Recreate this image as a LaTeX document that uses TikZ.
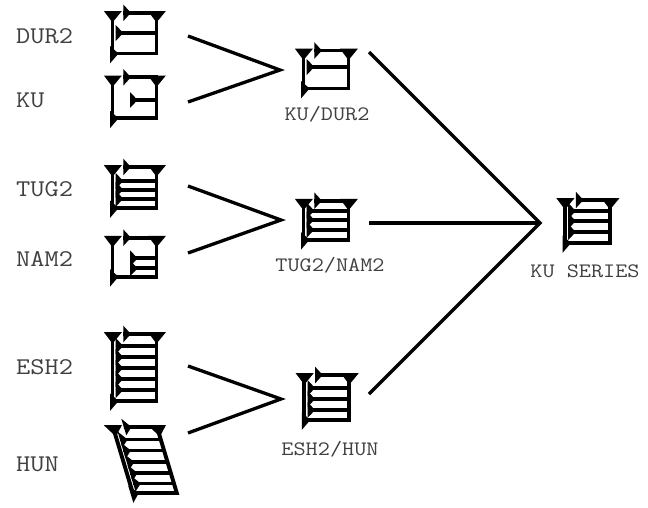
\documentclass[tikz,border=0pt]{standalone}
\usepackage{fontspec}
\setmonofont[FakeStretch=1.15]{Latin Modern Mono}
\usepackage{tikz}

% one wedge pointing right, with its stroke running to x=#3
\newcommand{\wedgeline}[3]{%
  \fill (#1,#2-8) -- (#1+7.6,#2) -- (#1,#2+8) -- cycle;
  \draw [stroke] (#1,#2) -- (#3,#2);
}
% the frame all the signs share: width #1, height #2
\newcommand{\signframe}[2]{%
  \fill (-8.6,-1.8) -- (9.4,-1.8) -- (0,9.6) -- cycle;
  \fill (#1-8.6,-1.8) -- (#1+9.4,-1.8) -- (#1,9.6) -- cycle;
  \fill (-2.4,#2-7.5) -- (6,#2) -- (-2.4,#2+9.8) -- cycle;
  \fill (10.8,-8.3) -- (18.4,0) -- (10.8,8.3) -- cycle;
  \draw [stroke] (0,0) -- (0,#2);
  \draw [stroke] (10.8,0) -- (#1,0) -- (#1,#2) -- (0,#2);
}

\tikzset{%
  stroke/.style={line width=3.9pt},
  lbl/.style={font=\ttfamily\fontsize{24}{24}\selectfont,text=black!75,anchor=west,inner sep=0pt},
  capt/.style={font=\ttfamily\fontsize{20.5}{20.5}\selectfont,text=black!75,inner sep=0pt},
  joiner/.style={line width=3.3pt},
}

\begin{document}
\begin{tikzpicture}[%
      x=1pt,y=-1pt,
      ]
      \useasboundingbox (0,0) rectangle (648,507);

      \node [lbl] (lblDur) at (16,36) {DUR2};
      \node [lbl] (lblKu) at (16,100) {KU};
      \node [lbl] (lblTug) at (16,189) {TUG2};
      \node [lbl] (lblNam) at (16,259) {NAM2};
      \node [lbl] (lblEsh) at (16,367) {ESH2};
      \node [lbl] (lblHun) at (16,464) {HUN};

      \node [capt] (capKuDur) at (327,114) {KU/DUR2};
      \node [capt] (capTugNam) at (330,265) {TUG2/NAM2};
      \node [capt] (capEshHun) at (330,449) {ESH2/HUN};
      \node [capt] (capSeries) at (585,271) {KU SERIES};

      % DUR2
      \begin{scope}[shift={(112.5,12.8)}]
        \signframe{44}{40.7}
        \wedgeline{3.2}{20.2}{44}
      \end{scope}
      % KU
      \begin{scope}[shift={(112.5,77.3)}]
        \signframe{44}{41}
        \wedgeline{17.5}{22.7}{44}
      \end{scope}
      % TUG2
      \begin{scope}[shift={(112.5,167)}]
        \signframe{44}{41}
        \foreach \ypos in {14,22.7,31.7} {\wedgeline{3.2}{\ypos}{44}}
      \end{scope}
      % NAM2
      \begin{scope}[shift={(112.5,237.7)}]
        \signframe{44}{39}
        \foreach \ypos in {20.6,30.6} {\wedgeline{17.5}{\ypos}{44}}
      \end{scope}
      % ESH2
      \begin{scope}[shift={(112.5,334)}]
        \signframe{44}{67}
        \foreach \ypos in {12,23,34,45,56} {\wedgeline{3.2}{\ypos}{44}}
      \end{scope}
      % HUN
      \begin{scope}[shift={(113,427)},xslant=-0.3]
        \signframe{44}{66}
        \foreach \ypos in {12.5,23.5,35,46,56.5} {\wedgeline{3.2}{\ypos}{44}}
      \end{scope}

      % KU/DUR2
      \begin{scope}[shift={(303.5,50.5)}]
        \signframe{45}{38}
        \wedgeline{3.2}{16.5}{45}
      \end{scope}
      % TUG2/NAM2
      \begin{scope}[shift={(303.5,200.7)}]
        \signframe{45}{39}
        \foreach \ypos in {10,19,29} {\wedgeline{3.2}{\ypos}{45}}
      \end{scope}
      % ESH2/HUN
      \begin{scope}[shift={(304.3,375)}]
        \signframe{45}{45}
        \foreach \ypos in {13,24,35} {\wedgeline{3.2}{\ypos}{45}}
      \end{scope}
      % KU SERIES
      \begin{scope}[shift={(565,200)}]
        \signframe{45}{43}
        \foreach \ypos in {11,21,32} {\wedgeline{3.2}{\ypos}{45}}
      \end{scope}

      \coordinate (durEnd) at (188,36);
      \coordinate (kuEnd) at (188,102);
      \coordinate (joinA) at (280,70);
      \coordinate (tugEnd) at (188,186);
      \coordinate (namEnd) at (188,253);
      \coordinate (joinB) at (281,220);
      \coordinate (eshEnd) at (188,366);
      \coordinate (hunEnd) at (188,433);
      \coordinate (joinC) at (281,399);
      \coordinate (srcA) at (369,52);
      \coordinate (srcB) at (369,223);
      \coordinate (srcC) at (369,394);
      \coordinate (joinD) at (540,223);

      \draw [joiner] (durEnd) -- (joinA) -- (kuEnd);
      \draw [joiner] (tugEnd) -- (joinB) -- (namEnd);
      \draw [joiner] (eshEnd) -- (joinC) -- (hunEnd);
      \draw [joiner] (srcA) -- (joinD) -- (srcC);
      \draw [joiner] (srcB) -- (joinD);
      \end{tikzpicture}
\end{document}
